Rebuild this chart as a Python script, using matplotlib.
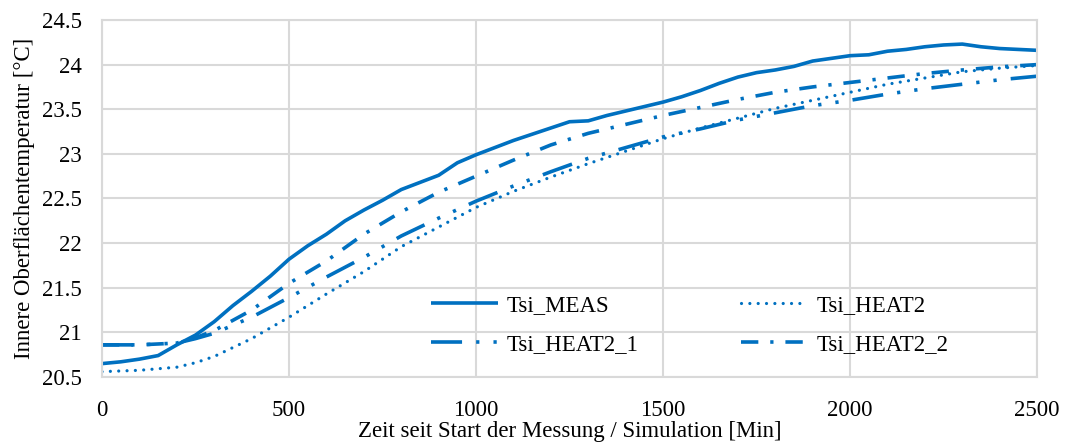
import matplotlib
matplotlib.use('Agg')
import matplotlib.pyplot as plt
from matplotlib.ticker import FuncFormatter

t_meas = [0, 50, 100, 150, 200, 250, 300, 350, 400, 450, 500, 550, 600, 650, 700, 750,
          800, 850, 900, 950, 1000, 1050, 1100, 1150, 1200, 1250, 1300, 1350, 1400, 1450,
          1500, 1550, 1600, 1650, 1700, 1750, 1800, 1850, 1900, 1950, 2000, 2050, 2100,
          2150, 2200, 2250, 2300, 2350, 2400, 2450, 2500]
tsi_meas = [20.65, 20.67, 20.70, 20.74, 20.86, 20.97, 21.12, 21.30, 21.46, 21.63, 21.82,
            21.97, 22.10, 22.25, 22.37, 22.48, 22.60, 22.68, 22.76, 22.90, 22.99, 23.07,
            23.15, 23.22, 23.29, 23.36, 23.37, 23.43, 23.48, 23.53, 23.58, 23.64, 23.71,
            23.79, 23.86, 23.91, 23.94, 23.98, 24.04, 24.07, 24.10, 24.11, 24.15, 24.17,
            24.20, 24.22, 24.23, 24.20, 24.18, 24.17, 24.16]

t_sim = [0, 100, 200, 250, 300, 400, 500, 600, 700, 800, 900, 1000, 1100, 1200, 1300, 1400,
         1500, 1600, 1700, 1800, 1900, 2000, 2100, 2200, 2300, 2400, 2500]
tsi_heat2 = [20.56, 20.575, 20.61, 20.66, 20.73, 20.93, 21.17, 21.43, 21.68, 21.96, 22.18,
             22.40, 22.58, 22.74, 22.89, 23.03, 23.17, 23.29, 23.40, 23.51, 23.60, 23.69,
             23.78, 23.85, 23.92, 23.96, 23.99]
tsi_heat2_1 = [20.86, 20.86, 20.88, 20.93, 20.99, 21.17, 21.39, 21.62, 21.84, 22.08, 22.28,
               22.47, 22.64, 22.80, 22.95, 23.07, 23.19, 23.28, 23.38, 23.46, 23.54, 23.60,
               23.67, 23.73, 23.78, 23.83, 23.87]
tsi_heat2_2 = [20.86, 20.86, 20.88, 20.94, 21.02, 21.25, 21.55, 21.80, 22.10, 22.35, 22.57,
               22.75, 22.93, 23.10, 23.23, 23.33, 23.43, 23.52, 23.61, 23.69, 23.75, 23.80,
               23.85, 23.90, 23.94, 23.975, 24.00]

blau = '#0070C0'
grau = '#D9D9D9'
lw = 2.6
fs = 16.5

plt.rcParams['font.family'] = ['Liberation Serif', 'DejaVu Serif']

fig = plt.figure(figsize=(10.65, 4.48), dpi=100)
ax = fig.add_axes([0.0958, 0.1585, 0.878, 0.7969])

l_meas, = ax.plot(t_meas, tsi_meas, color=blau, lw=lw, label='Tsi_MEAS', solid_capstyle='butt')
l_h2, = ax.plot(t_sim, tsi_heat2, color=blau, lw=2.3, linestyle=(0, (0.01, 2.6)),
                dash_capstyle='round', label='Tsi_HEAT2')
l_h21, = ax.plot(t_sim, tsi_heat2_1, color=blau, lw=lw,
                 linestyle=(0, (8.6, 3.9, 0.9, 3.9, 0.9, 3.9)), label='Tsi_HEAT2_1')
l_h22, = ax.plot(t_sim, tsi_heat2_2, color=blau, lw=lw, linestyle=(0, (4.8, 3.3, 0.9, 3.3)),
                 label='Tsi_HEAT2_2')

ax.set_xlim(0, 2500)
ax.set_ylim(20.5, 24.5)
ax.set_xticks(range(0, 2501, 500))
ax.set_yticks([20.5 + 0.5 * i for i in range(9)])
ax.yaxis.set_major_formatter(FuncFormatter(lambda v, p: f'{v:g}'))
ax.tick_params(length=0, labelsize=fs)
ax.tick_params(axis='y', pad=14.5)
ax.tick_params(axis='x', pad=16.5)
ax.grid(True, color=grau, lw=1.5)
ax.set_axisbelow(True)
for s in ax.spines.values():
    s.set_color(grau)
    s.set_linewidth(1.5)

ax.set_xlabel('Zeit seit Start der Messung / Simulation [Min]', fontsize=fs, labelpad=0)
ax.set_ylabel('Innere Oberflächentemperatur [°C]', fontsize=fs, labelpad=5)

# Reihenfolge so, dass Zeile 1 = MEAS, HEAT2 und Zeile 2 = HEAT2_1, HEAT2_2
handles = [l_meas, l_h21, l_h2, l_h22]
ax.legend(handles, [h.get_label() for h in handles], ncol=2, loc='lower left',
          bbox_to_anchor=(0.33, 0.005), frameon=False, fontsize=fs, handlelength=2.9,
          columnspacing=4.46, labelspacing=0.75, handletextpad=0.4)

plt.savefig('out.png', dpi=100)
